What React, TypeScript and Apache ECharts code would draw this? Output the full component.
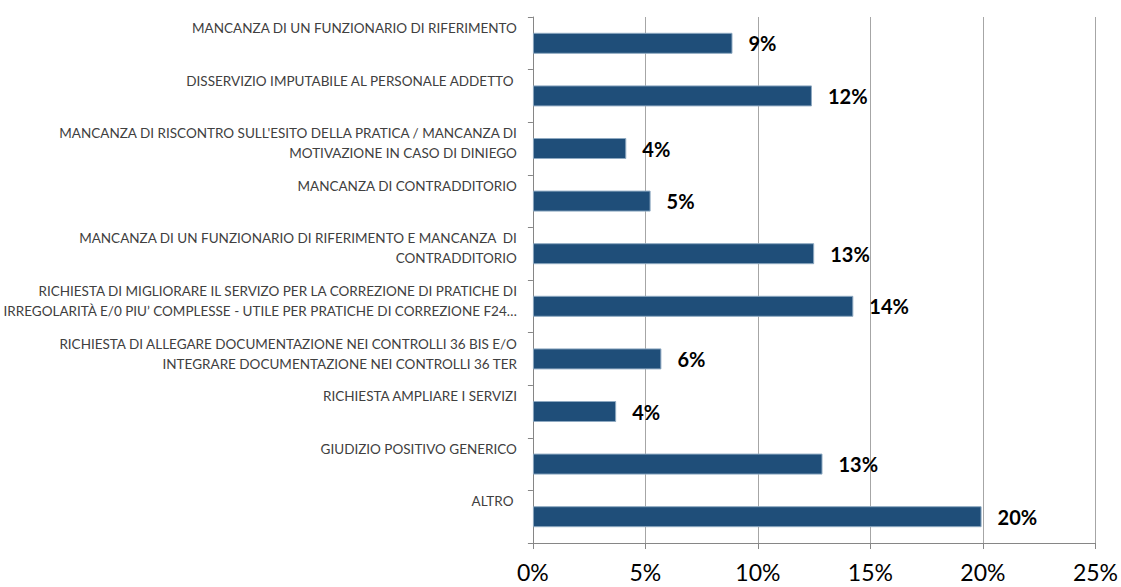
import React, { useEffect, useRef } from "react";
import * as echarts from "echarts";

const categories = [
  "MANCANZA DI UN FUNZIONARIO DI RIFERIMENTO",
  "DISSERVIZIO IMPUTABILE AL PERSONALE ADDETTO ",
  "MANCANZA DI RISCONTRO SULL'ESITO DELLA PRATICA / MANCANZA DI\nMOTIVAZIONE IN CASO DI DINIEGO",
  "MANCANZA DI CONTRADDITORIO",
  "MANCANZA DI UN FUNZIONARIO DI RIFERIMENTO E MANCANZA  DI\nCONTRADDITORIO",
  "RICHIESTA DI MIGLIORARE IL SERVIZO PER LA CORREZIONE DI PRATICHE DI\nIRREGOLARITÀ E/0 PIU’ COMPLESSE - UTILE PER PRATICHE DI CORREZIONE F24…",
  "RICHIESTA DI ALLEGARE DOCUMENTAZIONE NEI CONTROLLI 36 BIS E/O\nINTEGRARE DOCUMENTAZIONE NEI CONTROLLI 36 TER",
  "RICHIESTA AMPLIARE I SERVIZI",
  "GIUDIZIO POSITIVO GENERICO",
  "ALTRO ",
];

const values = [8.87, 12.4, 4.15, 5.23, 12.5, 14.24, 5.71, 3.7, 12.87, 19.94];

const xTicks = { min: 0, max: 25, interval: 5 };

export default function App() {
  const ref = useRef<HTMLDivElement>(null);
  useEffect(() => {
    document.body.style.margin = "0";
    const chart = echarts.init(ref.current!, undefined, { renderer: "svg" });
    const gray = "#a6a6a6";
    chart.setOption({
      animation: false,
      backgroundColor: "#ffffff",
      grid: { left: 531, right: 25, top: 17, bottom: 44, containLabel: false },
      xAxis: {
        type: "value",
        min: xTicks.min,
        max: xTicks.max,
        interval: xTicks.interval,
        axisLine: { show: true, lineStyle: { color: "#868686", width: 1 } },
        axisTick: { show: true, length: 6, lineStyle: { color: "#868686" } },
        splitLine: { show: true, lineStyle: { color: gray, width: 1 } },
        axisLabel: {
          formatter: "{value}%",
          fontFamily: "Lato",
          fontSize: 23,
          lineHeight: 24,
          color: "#000000",
          margin: 17,
        },
      },
      yAxis: [
        {
          type: "category",
          data: categories,
          inverse: true,
          boundaryGap: true,
          axisLine: { show: true, lineStyle: { color: "#868686", width: 1 } },
          axisTick: { show: true, length: 5, lineStyle: { color: "#868686" } },
          axisLabel: { show: false },
          splitLine: { show: false },
        },
        {
          type: "category",
          data: [...categories, ""],
          inverse: true,
          boundaryGap: false,
          position: "left",
          offset: 0,
          axisLine: { show: false },
          axisTick: { show: false },
          splitLine: { show: false },
          axisLabel: {
            interval: 0,
            verticalAlign: "top",
            align: "right",
            fontFamily: "Lato",
            fontSize: 13.5,
            lineHeight: 20,
            color: "#404040",
            margin: 16,
            padding: [1, 0, 0, 0],
          },
        },
      ],
      series: [
        {
          type: "bar",
          data: values,
          yAxisIndex: 0,
          barWidth: 21,
          itemStyle: { color: "#1F4E79", borderColor: "#8EA9C1", borderWidth: 1 },
          label: {
            show: true,
            position: "right",
            distance: 16,
            formatter: (p: any) => Math.round(p.value) + "%",
            fontFamily: "Lato",
            fontWeight: "bold",
            fontSize: 20,
            color: "#000000",
          },
        },
      ],
    });
    return () => chart.dispose();
  }, []);
  return <div ref={ref} style={{ width: 1121, height: 587 }} />;
}
